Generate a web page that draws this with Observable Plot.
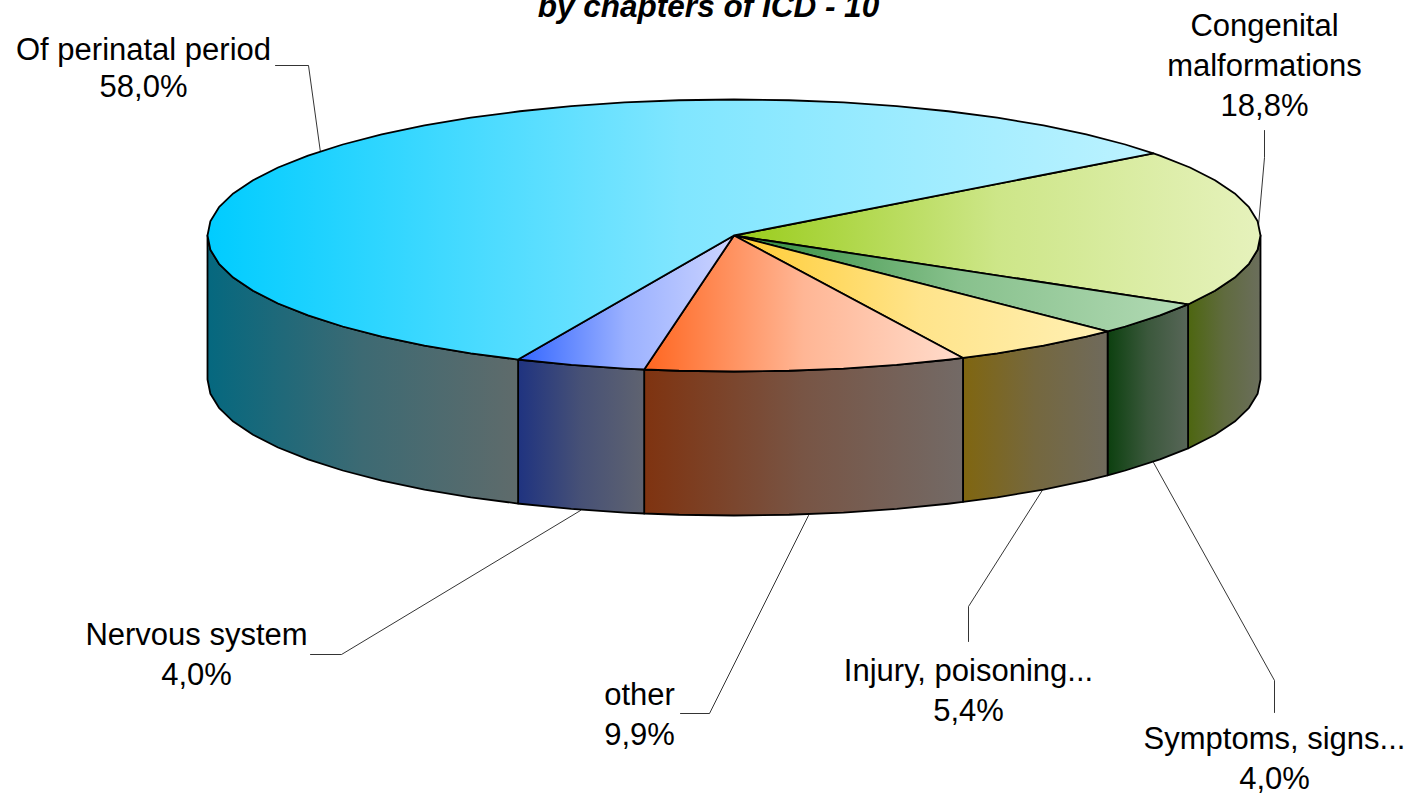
<!DOCTYPE html>
<html>
<head>
<meta charset="utf-8">
<script src="https://cdn.jsdelivr.net/npm/d3@7"></script>
<script src="https://cdn.jsdelivr.net/npm/@observablehq/plot@0.6"></script>
<style>
html,body{margin:0;padding:0;background:#fff}
svg{display:block}
</style>
</head>
<body>
<div id="chart"></div>
<script>
// ---- data (clockwise, starting at the back-right edge)
const categories = ["Congenital malformations", "Symptoms, signs...", "Injury, poisoning...", "other", "Nervous system", "Of perinatal period"];
const shares = [18.8, 4.0, 5.4, 9.9, 4.0, 58.0];
const labelLines = [
  ["Congenital", "malformations", "18,8%"],
  ["Symptoms, signs...", "4,0%"],
  ["Injury, poisoning...", "5,4%"],
  ["other", "9,9%"],
  ["Nervous system", "4,0%"],
  ["Of perinatal period", "58,0%"]
];
const titleText = "by chapters of ICD - 10";

// ---- styles
const topFrom  = ["#99CC1A", "#2E8B3A", "#FFCC33", "#FF6620", "#3366FF", "#00CCFF"];
const topTo    = ["#E6F2BC", "#B2DAB4", "#FFF0B4", "#FFDCCC", "#CCD4FF", "#BCF2FF"];
const sideFrom = ["#4D6610", "#0C400F", "#806610", "#7F3310", "#1F3380", "#05687F"];
const sideTo   = ["#6B6E5C", "#586658", "#6F6A5C", "#736A66", "#5F6370", "#5F6B6B"];
const topMid = 0.68, sideMid = 0.62;

// ---- layout (page pixels)
const pie = {cx: 733.5, cy: 235, rx: 526.5, ry: 136, depth: 144, start: -37.2, step: 6};
const labelPos = [
  {x: 1264, y: 23},  {x: 1274, y: 736}, {x: 968, y: 668},
  {x: 639, y: 692},  {x: 196, y: 632},  {x: 143, y: 48}
];
const lineGap = [40, 40, 40, 40, 40, 37];
const leaders = [
  [[1264, 130], [1264, 157], [1258, 225]],
  [[1153, 462], [1274, 680], [1274, 712]],
  [[1043, 488], [968, 606], [968, 641]],
  [[808, 515], [709, 713], [680, 713]],
  [[580, 510], [341, 654], [310, 654]],
  [[275, 65], [308, 65], [320, 152]]
];
const fontFamily = "Liberation Sans, Arial, sans-serif";
const fontSize = 31;

// ---- geometry derived from the shares
const total = d3.sum(shares);
const cum = d3.cumsum(shares);
const spans = shares.map((s, i) => {
  const a1 = pie.start + cum[i] / total * 360;
  return [a1 - s / total * 360, a1];
});
const rad = d => d * Math.PI / 180;
const onRim = (a, dy = 0) => ({x: pie.cx + pie.rx * Math.cos(rad(a)), y: pie.cy + pie.ry * Math.sin(rad(a)) + dy});
function arc(a0, a1, dy = 0) {
  const out = [onRim(a0, dy)];
  for (let a = Math.ceil(a0 / pie.step) * pie.step; a < a1; a += pie.step) if (a > a0) out.push(onRim(a, dy));
  out.push(onRim(a1, dy));
  return out;
}
const centre = {x: pie.cx, y: pie.cy};
const topShapes = spans.map(([a0, a1]) => [centre, ...arc(a0, a1), centre]);
const sideShapes = spans.map(([a0, a1]) => {
  const lo = Math.max(a0, 0), hi = Math.min(a1, 180);
  if (lo >= hi) return null;
  const upper = arc(lo, hi), lower = arc(lo, hi, pie.depth).reverse();
  return [...upper, ...lower, upper[0]];
});

// ---- gradients
function gradientDefs() {
  const defs = d3.create("svg:defs");
  const add = (id, a, b, m) => {
    const g = defs.append("linearGradient").attr("id", id).attr("x1", 0).attr("x2", 1).attr("y1", 0).attr("y2", 0);
    g.append("stop").attr("offset", 0).attr("stop-color", a);
    g.append("stop").attr("offset", 0.5).attr("stop-color", d3.interpolateRgb(a, b)(m));
    g.append("stop").attr("offset", 1).attr("stop-color", b);
  };
  categories.forEach((_, i) => { add("top" + i, topFrom[i], topTo[i], topMid); add("side" + i, sideFrom[i], sideTo[i], sideMid); });
  return defs.node();
}

const shapeMark = (pts, fill) => Plot.line(pts, {x: "x", y: "y", fill, stroke: "#000", strokeWidth: 1.8, strokeLinejoin: "round", curve: "linear"});

const leaderRows = leaders.flatMap((l, i) => l.map(([x, y]) => ({x, y, k: i})));
const labelRows = labelPos.map((p, i) => ({
  x: p.x,
  y: p.y + lineGap[i] * (labelLines[i].length - 1) / 2,
  text: labelLines[i].join("\n"),
  gap: lineGap[i]
}));

const chart = Plot.plot({
  width: 1411,
  height: 795,
  margin: 0,
  style: {background: "#fff"},
  x: {type: "linear", domain: [0, 1411], range: [0, 1411], axis: null},
  y: {type: "linear", domain: [0, 795], range: [0, 795], axis: null},
  marks: [
    gradientDefs,
    Plot.line(leaderRows, {x: "x", y: "y", z: "k", stroke: "#000", strokeWidth: 0.8}),
    ...sideShapes.map((s, i) => s && shapeMark(s, `url(#side${i})`)).filter(Boolean),
    ...topShapes.map((s, i) => shapeMark(s, `url(#top${i})`)),
    ...labelRows.map(r => Plot.text([r], {
      x: "x", y: "y", text: "text", textAnchor: "middle", lineAnchor: "middle",
      lineHeight: r.gap / fontSize, fontSize, fontFamily, fill: "#000"
    })),
    Plot.text([titleText], {
      x: () => 708, y: () => 16, text: d => d, textAnchor: "middle", lineAnchor: "bottom",
      fontSize: 31.5, fontFamily, fontWeight: "bold", fontStyle: "italic", fill: "#000"
    })
  ]
});
document.getElementById("chart").append(chart);
</script>
</body>
</html>
